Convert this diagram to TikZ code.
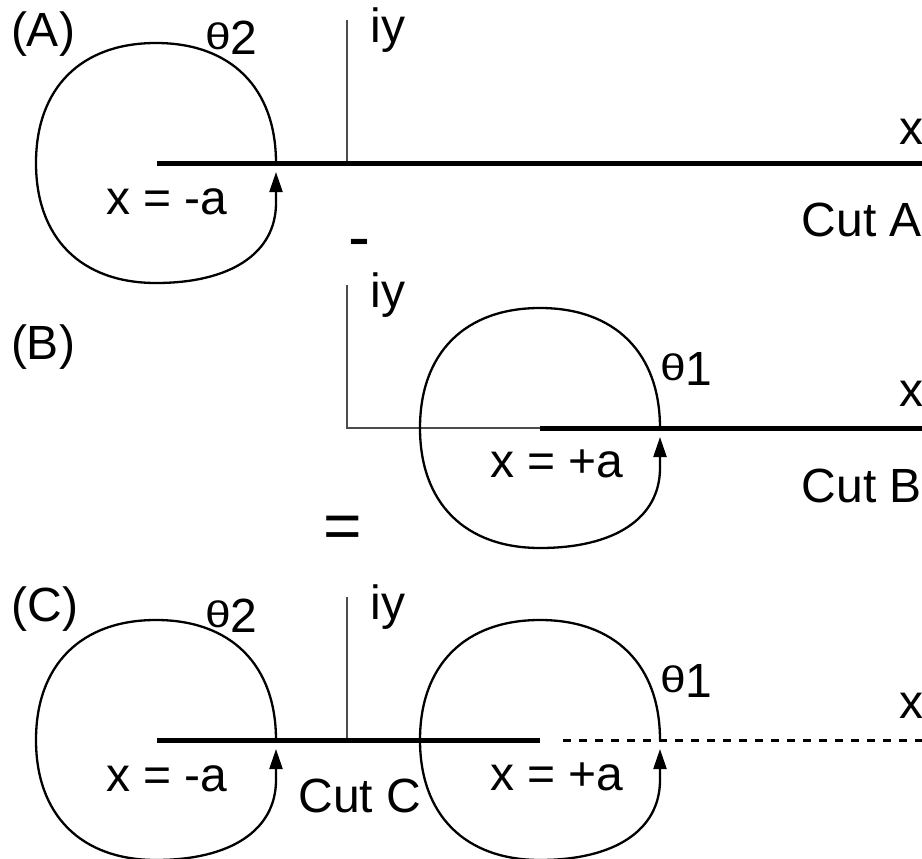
\documentclass[tikz,border=0pt]{standalone}
\usepackage{fontspec}
\setmainfont{Liberation Sans}
\usetikzlibrary{arrows.meta}
\tikzset{
  lbl/.style={inner sep=0pt, font=\fontsize{48}{48}\selectfont},
  bigsym/.style={inner sep=0pt, font=\fontsize{66}{66}\selectfont},
  loopline/.style={line width=2.3pt, black},
  axisline/.style={line width=1.2pt, black!70},
  cutline/.style={line width=5pt, black},
  dashcut/.style={line width=3pt, black, dash pattern=on 8pt off 8pt},
  contour/.pic={
    \draw[loopline, -{Triangle[length=20pt,width=13pt]}]
      (120,0) .. controls (120,-75) and (75,-120) .. (0,-120)
      .. controls (-75,-120) and (-120,-75) .. (-120,0)
      .. controls (-120,75) and (-75,120) .. (0,120)
      .. controls (75,120) and (120,90) .. (120,40)
      -- (120,9);
  }
}
\newcommand{\thlabel}[1]{\scalebox{1.25}[1]{\fontsize{37}{37}\selectfont θ}\raisebox{-5pt}{#1}}
\begin{document}
\begin{tikzpicture}[x=1pt, y=-1pt]
\useasboundingbox (0,0) rectangle (922,859);

% ---------- Panel A ----------
\coordinate (Aaxtop) at (347,20);
\coordinate (Aax0) at (347,163);
\coordinate (Acutl) at (157,163);
\coordinate (Acutr) at (922,163);
\draw[axisline] (Aaxtop) -- (Aax0);
\draw[cutline] (Acutl) -- (Acutr);
\pic at (156,163) {contour};
\node[lbl] (Alab) at (43,34) {(A)};
\node[lbl, anchor=base west] (Ath) at (205,50) {\thlabel{2}};
\node[lbl] (Aiy) at (388,30) {iy};
\node[lbl] (Ax) at (911,132) {x};
\node[lbl] (Aa) at (167,202) {x = -a};
\node[lbl] (Acut) at (862,220) {Cut A};
\node[bigsym, anchor=base] (minus) at (359,259) {-};

% ---------- Panel B ----------
\coordinate (Baxtop) at (347,285);
\coordinate (Bax0) at (347,428);
\coordinate (Bcutl) at (540,428);
\coordinate (Bcutr) at (922,428);
\draw[axisline] (Baxtop) -- (Bax0) -- (Bcutl);
\draw[cutline] (Bcutl) -- (Bcutr);
\pic at (540,428) {contour};
\node[lbl] (Blab) at (43,347) {(B)};
\node[lbl, anchor=base west] (Bth) at (660,380) {\thlabel{1}};
\node[lbl] (Biy) at (388,295) {iy};
\node[lbl] (Bx) at (911,394) {x};
\node[lbl] (Ba) at (557,464) {x = +a};
\node[lbl] (Bcut) at (862,486) {Cut B};
\node[bigsym] (equals) at (343,532) {=};

% ---------- Panel C ----------
\coordinate (Caxtop) at (347,597);
\coordinate (Cax0) at (347,740);
\coordinate (Ccutl) at (157,740);
\coordinate (Ccutr) at (540,740);
\coordinate (Cdashl) at (563,740);
\coordinate (Cdashr) at (922,740);
\draw[axisline] (Caxtop) -- (Cax0);
\draw[cutline] (Ccutl) -- (Ccutr);
\draw[dashcut] (Cdashl) -- (Cdashr);
\pic at (156,740) {contour};
\pic at (540,740) {contour};
\node[lbl] (Clab) at (45,609) {(C)};
\node[lbl, anchor=base west] (Cth2) at (205,627) {\thlabel{2}};
\node[lbl, anchor=base west] (Cth1) at (660,692) {\thlabel{1}};
\node[lbl] (Ciy) at (388,607) {iy};
\node[lbl] (Cx) at (911,706) {x};
\node[lbl] (Cam) at (167,779) {x = -a};
\node[lbl] (Cap) at (557,777) {x = +a};
\node[lbl] (Ccut) at (360,796) {Cut C};
\end{tikzpicture}
\end{document}
